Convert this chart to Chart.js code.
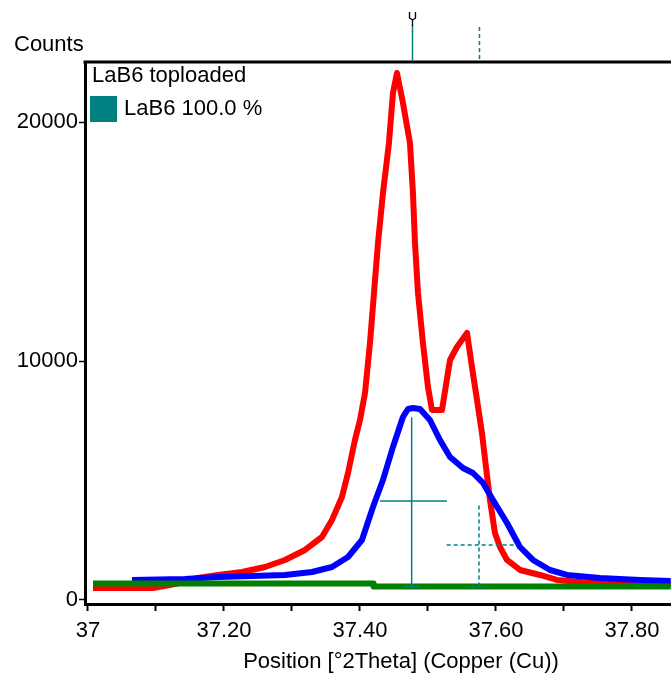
<!DOCTYPE html>
<html>
<head>
<meta charset="utf-8">
<script src="https://cdn.jsdelivr.net/npm/chart.js"></script>
<style>
  html, body { margin: 0; padding: 0; background: #fff; overflow: hidden; }
  canvas { display: block; }
</style>
</head>
<body>
<canvas id="xrd" width="671" height="675"></canvas>
<script>
// measured scan (red)
const redPos = [37.0074, 37.0956, 37.128, 37.1618, 37.1912, 37.2265, 37.2603, 37.2897, 37.3191, 37.3441,
  37.3588, 37.3735, 37.3824, 37.3926, 37.40, 37.4074, 37.4147, 37.4206, 37.4265, 37.4338, 37.4426, 37.4485,
  37.4544, 37.4632, 37.4735, 37.4779, 37.4809, 37.4853, 37.4926, 37.50, 37.5059, 37.5206, 37.5324, 37.5426,
  37.5574, 37.5647, 37.5721, 37.5794, 37.5853, 37.5912, 37.5985, 37.6059, 37.6162, 37.6353, 37.6647, 37.6897,
  37.7235, 37.7676, 37.857];
const redCounts = [503, 503, 670, 921, 1047, 1172, 1382, 1675, 2094, 2638,
  3350, 4313, 5318, 6700, 7538, 8668, 10762, 12856, 14950, 17044, 19137, 21231,
  22069, 20812, 19137, 17044, 14950, 12856, 10762, 8920, 7960, 7960, 10050, 10595,
  11181, 9757, 8375, 6993, 5570, 4188, 2806, 2219, 1675, 1256, 1047, 838,
  754, 670, 670];

// calculated profile (blue)
const bluePos = [37.0647, 37.1426, 37.1912, 37.2412, 37.2897, 37.3294, 37.3588, 37.3824, 37.4029, 37.4191,
  37.4338, 37.4485, 37.4632, 37.4706, 37.4779, 37.4882, 37.5029, 37.5176, 37.5324, 37.5515, 37.5662, 37.5809,
  37.5956, 37.6162, 37.6353, 37.6544, 37.6794, 37.7044, 37.7529, 37.8118, 37.857];
const blueCounts = [838, 879, 963, 1005, 1047, 1172, 1382, 1801, 2513, 3894,
  5025, 6407, 7663, 7998, 8040, 7998, 7538, 6700, 5988, 5528, 5318, 4900,
  4188, 3224, 2219, 1675, 1256, 1047, 921, 838, 796];

// background (green)
const bgPos = [37.0074, 37.42, 37.857];
const bgCounts = [690, 565, 565];

// reference pattern LaB6
const refPos = [37.476, 37.575];
const refHeight = [7650, 3980];
const refWidthLeft = [37.4294, 37.5275];
const refWidthRight = [37.5279, 37.6279];
const refWidthLevel = [4146, 2303];

const xTicks = [37.0, 37.1, 37.2, 37.3, 37.4, 37.5, 37.6, 37.7, 37.8];
const yTicks = [0, 10000, 20000];

const TEAL = '#008080';
const FONT = 'Liberation Sans';

function pts(xs, ys) { return xs.map((x, i) => ({ x: x, y: ys[i] })); }

const refSets = [];
refPos.forEach((p, i) => {
  const dash = i === 0 ? [] : [4, 3];
  refSets.push({ data: [{ x: p, y: bgCounts[2] }, { x: p, y: refHeight[i] }], borderColor: TEAL, borderWidth: 1.5, borderDash: dash, order: 0 });
  refSets.push({ data: [{ x: refWidthLeft[i], y: refWidthLevel[i] }, { x: refWidthRight[i], y: refWidthLevel[i] }], borderColor: TEAL, borderWidth: 1.5, borderDash: dash, order: 0 });
  refSets.push({ data: [{ x: p - 0.011, y: bgCounts[2] }, { x: p + 0.011, y: bgCounts[2] }], borderColor: TEAL, borderWidth: 1.5, borderDash: dash, order: 0 });
});

const frame = {
  id: 'frame',
  afterDraw(chart) {
    const ctx = chart.ctx, a = chart.chartArea, xs = chart.scales.x;
    ctx.save();
    ctx.strokeStyle = '#000';
    ctx.lineWidth = 3;
    ctx.beginPath();
    ctx.moveTo(a.left - 1.5, a.top);
    ctx.lineTo(chart.width, a.top);
    ctx.stroke();
    // reference sticks above plot
    refPos.forEach((p, i) => {
      const px = Math.round(xs.getPixelForValue(p)) + 0.5;
      ctx.strokeStyle = TEAL;
      ctx.lineWidth = 1.5;
      ctx.setLineDash(i === 0 ? [] : [4, 3]);
      ctx.beginPath();
      ctx.moveTo(px, i === 0 ? 25 : 27);
      ctx.lineTo(px, a.top - 1);
      ctx.stroke();
    });
    ctx.setLineDash([]);
    // selection mark on first stick
    const mx = Math.round(xs.getPixelForValue(refPos[0])) + 0.5;
    ctx.strokeStyle = '#000';
    ctx.lineWidth = 1.3;
    ctx.beginPath();
    ctx.moveTo(mx - 3, 12); ctx.lineTo(mx - 3, 18); ctx.lineTo(mx, 20);
    ctx.lineTo(mx + 3, 18); ctx.lineTo(mx + 3, 12);
    ctx.moveTo(mx, 20); ctx.lineTo(mx, 26);
    ctx.stroke();
    // texts
    ctx.fillStyle = '#000';
    ctx.textBaseline = 'middle';
    ctx.font = '22px "' + FONT + '"';
    ctx.textAlign = 'left';
    ctx.fillText('Counts', 14, 45);
    ctx.fillText('LaB6 toploaded', 92, 76);
    ctx.fillText('LaB6 100.0 %', 124, 109);
    ctx.textAlign = 'center';
    ctx.fillText('Position [°2Theta] (Copper (Cu))', 401, 662);
    ctx.fillStyle = TEAL;
    ctx.fillRect(90, 96, 27, 26);
    ctx.restore();
  }
};

new Chart(document.getElementById('xrd'), {
  type: 'line',
  data: {
    datasets: [
      ...refSets,
      { data: pts(bgPos, bgCounts), borderColor: '#008000', borderWidth: 6, stepped: 'before', order: 1 },
      { data: pts(bluePos, blueCounts), borderColor: '#0000ff', borderWidth: 6, order: 2 },
      { data: pts(redPos, redCounts), borderColor: '#ff0000', borderWidth: 6, order: 3 }
    ]
  },
  options: {
    responsive: false,
    animation: false,
    devicePixelRatio: 1,
    elements: { point: { radius: 0 }, line: { tension: 0, borderJoinStyle: 'round', borderCapStyle: 'butt' } },
    layout: { padding: { top: 62, left: 0, right: 0, bottom: 0 } },
    plugins: { legend: { display: false }, tooltip: { enabled: false }, title: { display: false } },
    scales: {
      x: {
        type: 'linear',
        min: 36.9956,
        max: 37.8574,
        afterFit(s) { s.height = 71; },
        afterBuildTicks(s) { s.ticks = xTicks.map(v => ({ value: v })); },
        border: { display: true, color: '#000', width: 3 },
        grid: { display: true, drawOnChartArea: false, drawTicks: true, tickLength: 7, color: '#000', tickWidth: 2 },
        ticks: {
          autoSkip: false, maxRotation: 0, padding: 7, color: '#000',
          font: { family: FONT, size: 22 },
          callback(v) {
            const t = Math.round(v * 10);
            if (t === 370) return '37';
            return t % 2 === 0 ? v.toFixed(2) : '';
          }
        }
      },
      y: {
        type: 'linear',
        min: -168,
        max: 22530,
        afterFit(s) { s.width = 85; },
        afterBuildTicks(s) { s.ticks = yTicks.map(v => ({ value: v })); },
        border: { display: true, color: '#000', width: 3 },
        grid: { display: true, drawOnChartArea: false, drawTicks: true, tickLength: 6, color: '#000', tickWidth: 1.5 },
        ticks: { padding: 1, color: '#000', font: { family: FONT, size: 22 }, callback(v) { return String(v); } }
      }
    }
  },
  plugins: [frame]
});
</script>
</body>
</html>
